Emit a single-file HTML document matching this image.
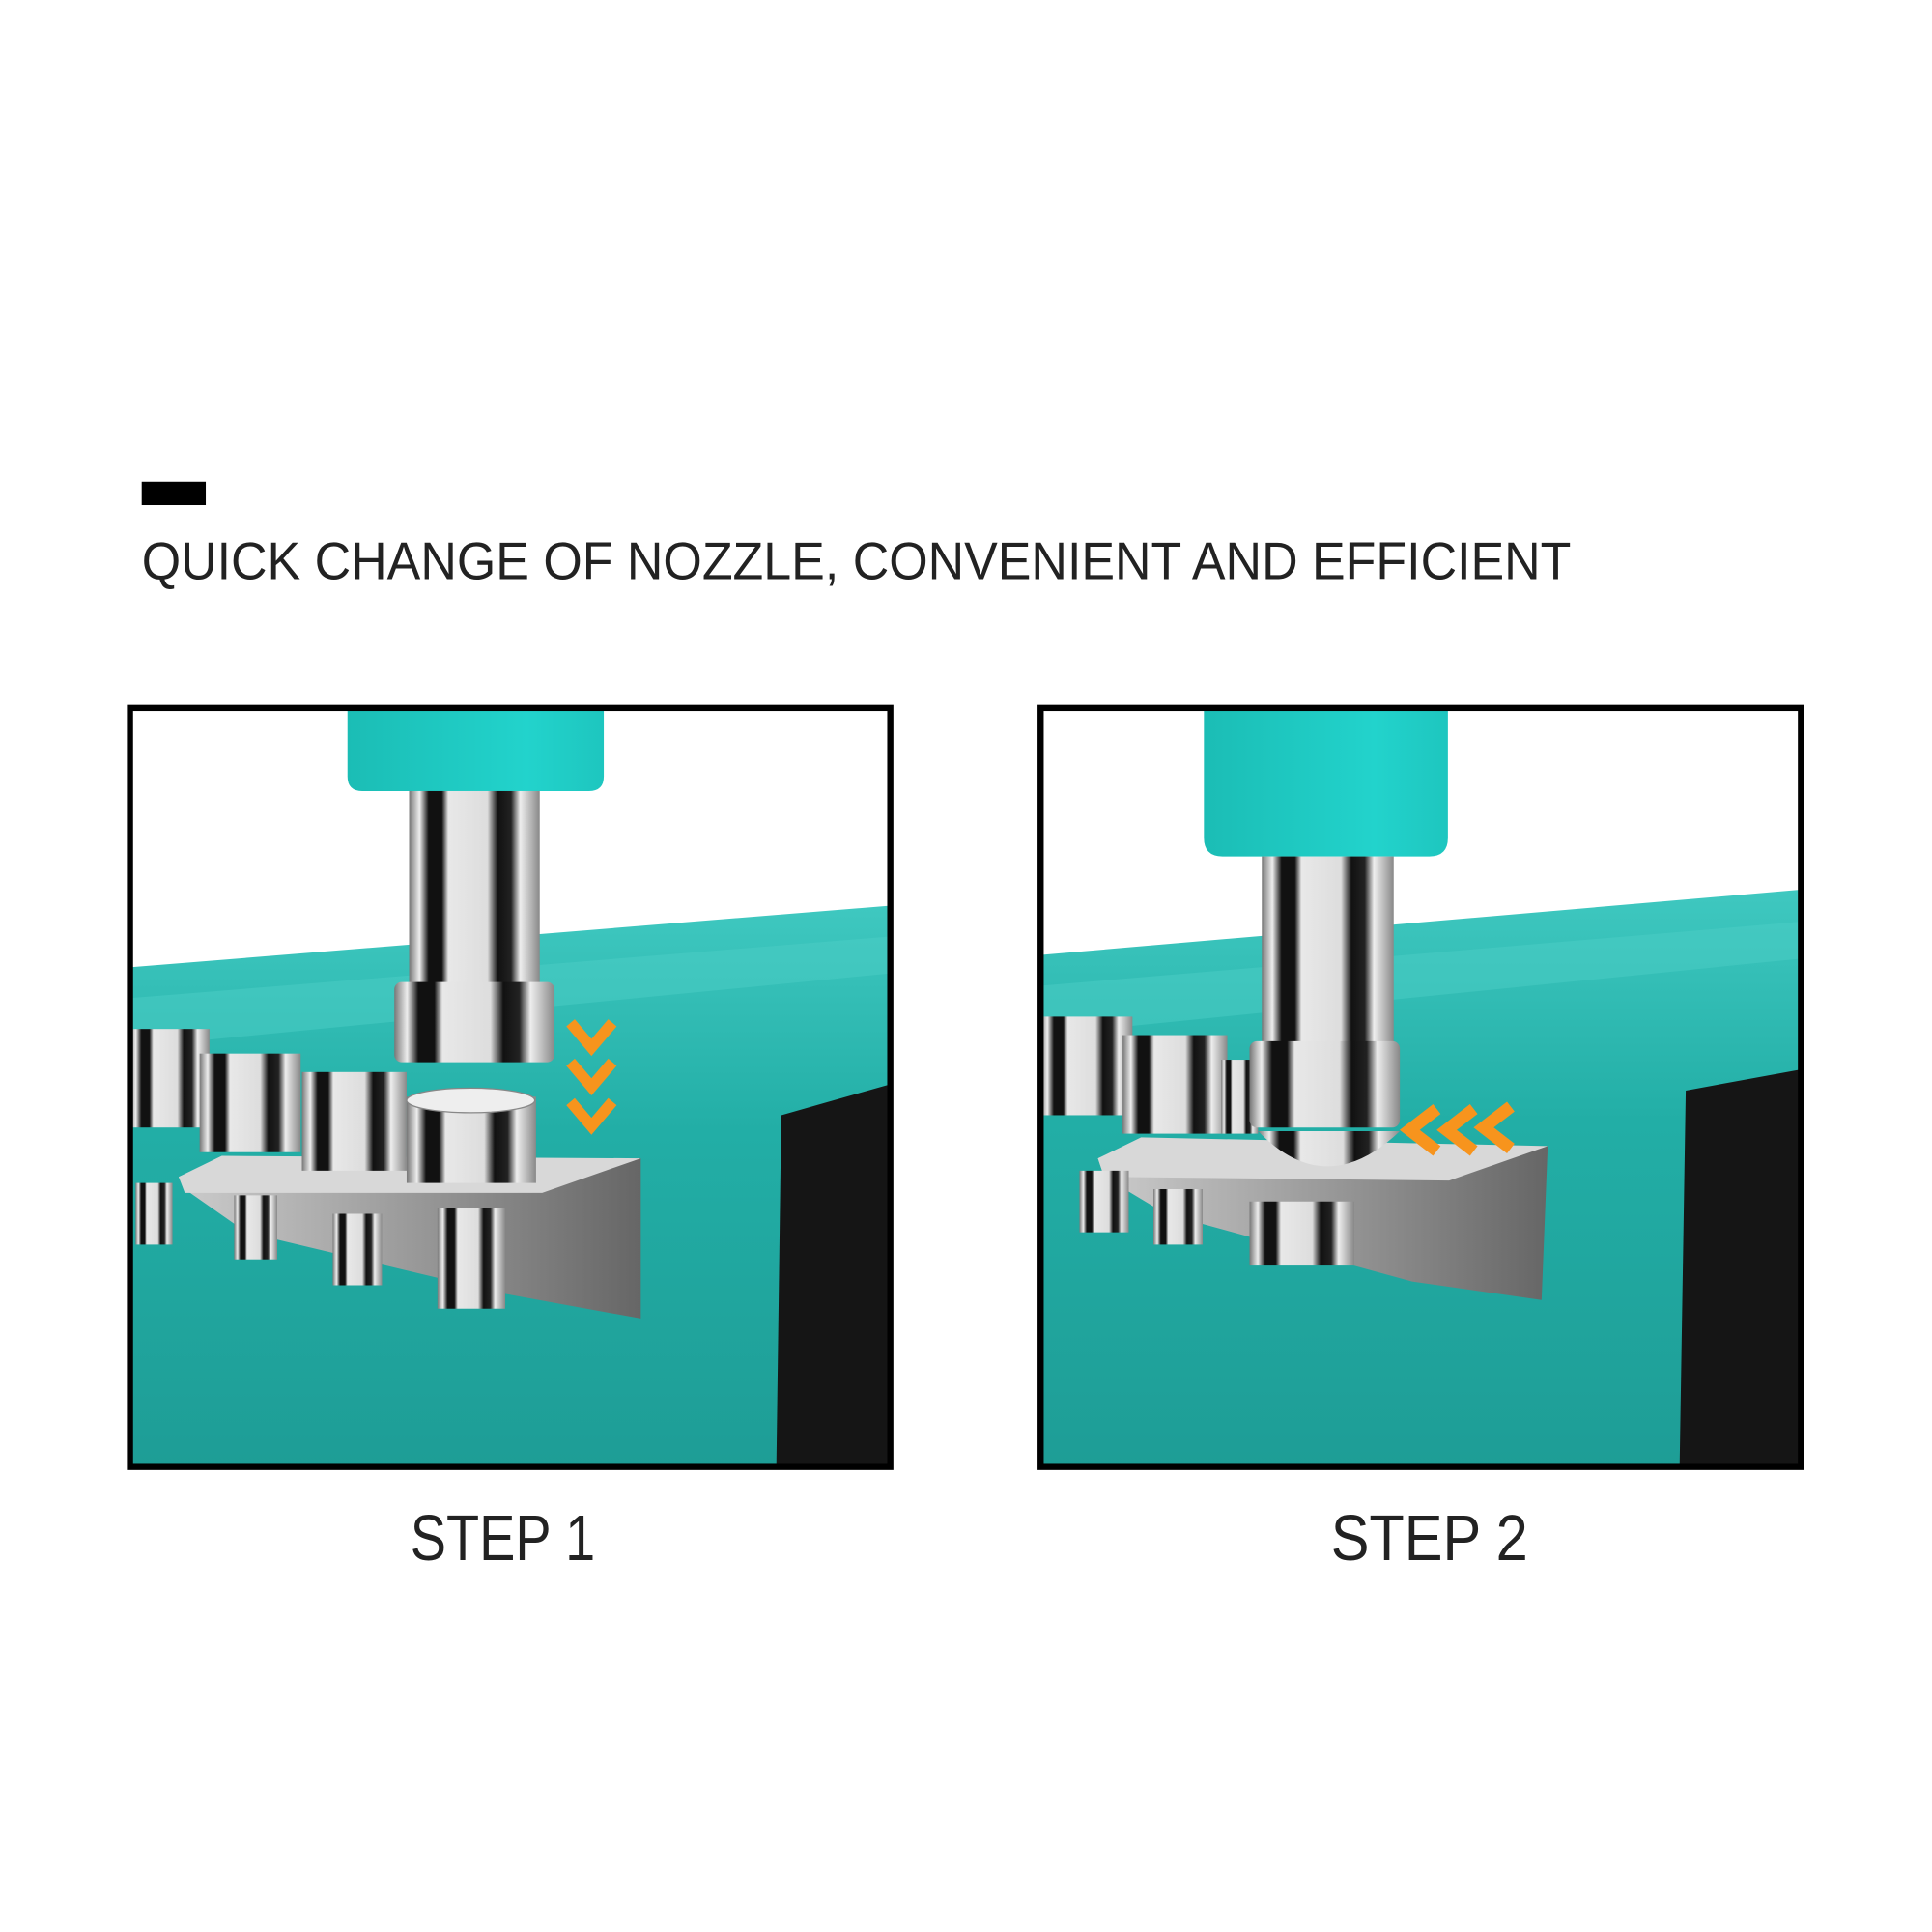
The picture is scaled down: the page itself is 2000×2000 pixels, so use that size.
<!DOCTYPE html>
<html><head><meta charset="utf-8"><style>
html,body{margin:0;padding:0;background:#fff;width:2000px;height:2000px;overflow:hidden}
svg{display:block}
</style></head><body>
<svg width="2000" height="2000" viewBox="0 0 1560 1560" xmlns="http://www.w3.org/2000/svg">
<defs>
<linearGradient id="ch" x1="0" x2="1" y1="0" y2="0">
<stop offset="0" stop-color="#777"/><stop offset="0.08" stop-color="#eee"/><stop offset="0.15" stop-color="#111"/><stop offset="0.25" stop-color="#111"/><stop offset="0.3" stop-color="#e8e8e8"/><stop offset="0.6" stop-color="#ddd"/><stop offset="0.68" stop-color="#111"/><stop offset="0.78" stop-color="#222"/><stop offset="0.85" stop-color="#eee"/><stop offset="1" stop-color="#888"/>
</linearGradient>
<linearGradient id="tl" x1="0" x2="1" y1="0" y2="0">
<stop offset="0" stop-color="#1bbdb5"/><stop offset="0.7" stop-color="#22d3cc"/><stop offset="1" stop-color="#1ec6bf"/>
</linearGradient>
<linearGradient id="tb" x1="0" x2="0" y1="0" y2="1">
<stop offset="0" stop-color="#3fc8c0"/><stop offset="0.4" stop-color="#22aea6"/><stop offset="1" stop-color="#1e9d96"/>
</linearGradient>
<linearGradient id="pl" x1="0" x2="1" y1="0" y2="0">
<stop offset="0" stop-color="#ccc"/><stop offset="0.5" stop-color="#9a9a9a"/><stop offset="1" stop-color="#666"/>
</linearGradient>
</defs>
<rect width="1560" height="1560" fill="#fff"/>
<g transform="scale(0.995)">
<rect x="115" y="391" width="52" height="19" fill="#000"/>
<text x="115" y="470" font-family="Liberation Sans, sans-serif" font-size="43" textLength="1160" lengthAdjust="spacingAndGlyphs" fill="#222">QUICK CHANGE OF NOZZLE, CONVENIENT AND EFFICIENT</text>

<g>
<clipPath id="c1"><rect x="105" y="575" width="617" height="616"/></clipPath>
<g clip-path="url(#c1)">
<rect x="105" y="575" width="617" height="616" fill="#fff"/>
<polygon points="105,785 722,735 722,1191 105,1191" fill="url(#tb)"/>
<polygon points="105,810 722,760 722,790 105,850" fill="#4ccdc6" opacity="0.5"/>
<polygon points="630,1191 634,905 722,880 722,1191" fill="#151515"/>
<polygon points="145,955 180,940 520,940 520,1070 410,1050 200,1000 150,965" fill="url(#pl)"/>
<polygon points="145,955 180,938 520,940 440,968 150,968" fill="#d8d8d8"/>
<rect x="105" y="835" width="65" height="80" fill="url(#ch)"/>
<rect x="162" y="855" width="82" height="80" fill="url(#ch)"/>
<rect x="245" y="870" width="85" height="80" fill="url(#ch)"/>
<rect x="330" y="890" width="105" height="70" fill="url(#ch)"/>
<ellipse cx="382" cy="893" rx="52" ry="10" fill="#eee" stroke="#888"/>
<rect x="110" y="960" width="30" height="50" fill="url(#ch)"/>
<rect x="190" y="970" width="35" height="52" fill="url(#ch)"/>
<rect x="270" y="985" width="40" height="58" fill="url(#ch)"/>
<rect x="355" y="980" width="55" height="82" fill="url(#ch)"/>
<path d="M282,575 H490 V630 Q490,642 478,642 H294 Q282,642 282,630 Z" fill="url(#tl)"/>
<rect x="332" y="642" width="106" height="158" fill="url(#ch)"/>
<rect x="320" y="797" width="130" height="65" rx="6" fill="url(#ch)"/>
<g fill="none" stroke="#f7941d" stroke-width="9">
<polyline points="463,830 480,850 497,830"/>
<polyline points="463,862 480,882 497,862"/>
<polyline points="463,894 480,914 497,894"/>
</g>
</g>
<rect x="105.5" y="574.5" width="617" height="616" fill="none" stroke="#000" stroke-width="5"/>
</g>

<g transform="translate(-4,0)">
<clipPath id="c2"><rect x="848" y="575" width="617" height="616"/></clipPath>
<g clip-path="url(#c2)">
<rect x="848" y="575" width="617" height="616" fill="#fff"/>
<polygon points="848,775 1465,722 1465,1191 848,1191" fill="url(#tb)"/>
<polygon points="848,800 1465,748 1465,778 848,840" fill="#4ccdc6" opacity="0.5"/>
<polygon points="1367,1191 1372,885 1465,868 1465,1191" fill="#151515"/>
<polygon points="895,940 930,925 1260,930 1255,1055 1150,1040 950,985 900,955" fill="url(#pl)"/>
<polygon points="895,940 930,923 1260,930 1180,958 900,955" fill="#d8d8d8"/>
<rect x="848" y="825" width="75" height="80" fill="url(#ch)"/>
<rect x="915" y="840" width="85" height="80" fill="url(#ch)"/>
<rect x="995" y="860" width="30" height="60" fill="url(#ch)"/>
<rect x="880" y="950" width="40" height="50" fill="url(#ch)"/>
<rect x="940" y="965" width="40" height="45" fill="url(#ch)"/>
<rect x="1018" y="975" width="85" height="52" fill="url(#ch)"/>
<path d="M981,575 H1179 V680 Q1179,695 1164,695 H996 Q981,695 981,680 Z" fill="url(#tl)"/>
<rect x="1028" y="695" width="107" height="155" fill="url(#ch)"/>
<rect x="1018" y="845" width="122" height="70" rx="6" fill="url(#ch)"/>
<path d="M1025,918 Q1080,975 1140,918 Z" fill="url(#ch)"/>
<g fill="none" stroke="#f7941d" stroke-width="10">
<polyline points="1170,900 1148,917 1170,934"/>
<polyline points="1200,900 1178,917 1200,934"/>
<polyline points="1230,898 1208,915 1230,932"/>
</g>
</g>
<rect x="848.5" y="574.5" width="617" height="616" fill="none" stroke="#000" stroke-width="5"/>
</g>

<text x="333" y="1266" font-family="Liberation Sans, sans-serif" font-size="52" textLength="150" lengthAdjust="spacingAndGlyphs" fill="#222">STEP 1</text>
<text x="1080" y="1266" font-family="Liberation Sans, sans-serif" font-size="52" textLength="160" lengthAdjust="spacingAndGlyphs" fill="#222">STEP 2</text>
</g>
</svg>
</body></html>
